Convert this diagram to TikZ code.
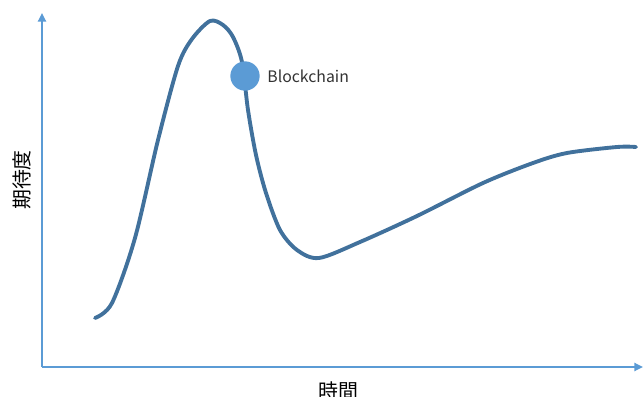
\documentclass[tikz,border=0pt]{standalone}
\usepackage{fontspec}
\setmainfont{Noto Sans CJK JP}
\usetikzlibrary{arrows.meta, positioning}
\definecolor{axisblue}{HTML}{5B9BD5}
\definecolor{curveblue}{HTML}{41719C}

\begin{document}
\begin{tikzpicture}[x=0.03cm, y=-0.03cm,
    axis/.style={axisblue, line width=2pt, -{Triangle[length=0.26cm, width=0.24cm]}},
    hype/.style={curveblue, line width=3.3pt, line cap=round, line join=round},
    dot/.style={circle, fill=axisblue, inner sep=0pt, minimum size=0.88cm}]
        \useasboundingbox (0,0) rectangle (643,397);
        % Axes
        \coordinate (origin) at (42,367);
        \coordinate (ytop) at (42,13);
        \coordinate (xend) at (643,367);
        \draw[axis] (origin) -- (ytop);
        \draw[axis] (origin) -- (xend);
        % Axis labels
        \node[rotate=90, font=\fontsize{17}{17}\selectfont] (ylab) at (22,180) {期待度};
        \node[font=\fontsize{17}{17}\selectfont] (xlab) at (338,391) {時間};
        % Hype curve
        \draw[hype] plot[smooth, tension=0.5] coordinates {
            (95,318) (112,303) (135,238) (158,140) (178,66) (192,39)
            (210,21) (223,25) (233,37) (242,62) (248,110) (256,155) (266,193)
            (280,230) (297,250) (319,258) (360,242) (417,216) (483,183)
            (533,163) (567,153) (617,147) (636,147)};
        % Blockchain marker
        \node[dot] (bc) at (245,76) {};
        \node[right=0.1cm of bc, font=\fontsize{13.5}{14}\selectfont, text=black!80] (bclab) {Blockchain};
    \end{tikzpicture}
\end{document}
